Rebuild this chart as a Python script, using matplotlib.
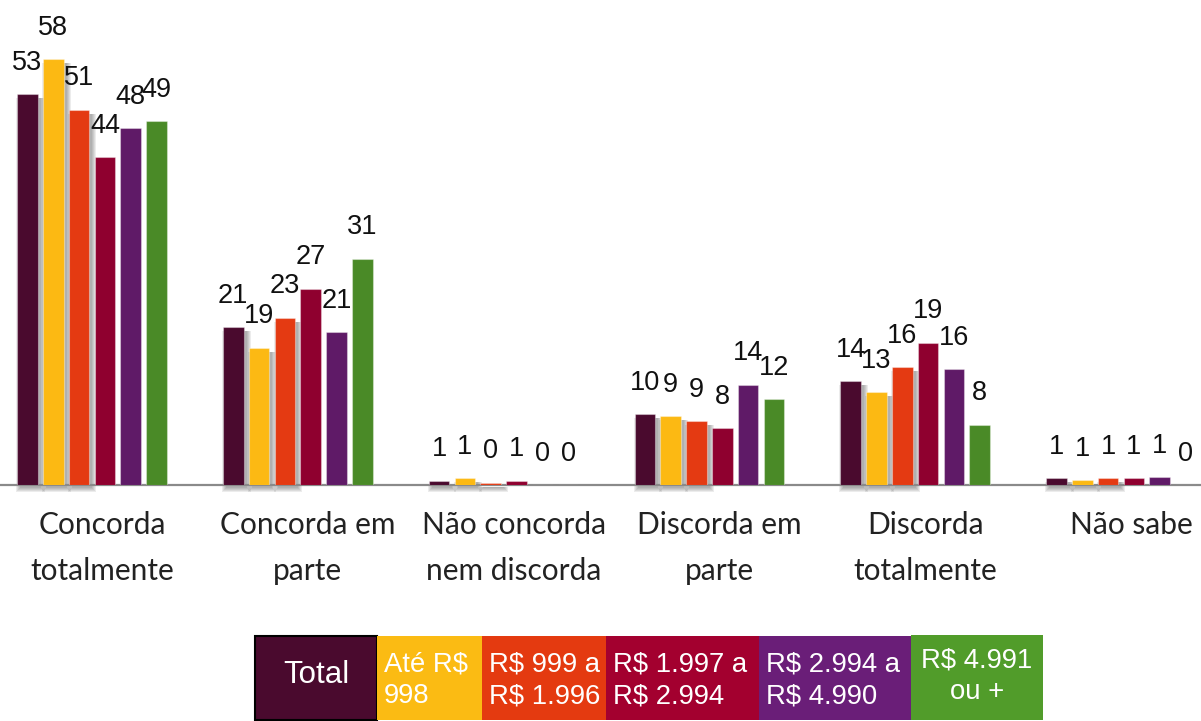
import matplotlib
matplotlib.use("Agg")
import matplotlib.pyplot as plt
from matplotlib.patches import Rectangle
from matplotlib.transforms import ScaledTranslation, blended_transform_factory

categories = ["Concorda\ntotalmente", "Concorda em\nparte", "Não concorda\nnem discorda",
              "Discorda em\nparte", "Discorda\ntotalmente", "Não sabe"]
series = ["Total", "Até R$\n998", "R$ 999 a\nR$ 1.996", "R$ 1.997 a\nR$ 2.994",
          "R$ 2.994 a\nR$ 4.990", "R$ 4.991\nou +"]
total = [53.0, 21.4, 0.6, 9.6, 14.1, 0.9]
ate_998 = [57.7, 18.6, 0.9, 9.3, 12.6, 0.7]
r999_1996 = [50.9, 22.7, 0.3, 8.7, 16.0, 0.9]
r1997_2994 = [44.4, 26.6, 0.6, 7.7, 19.3, 0.9]
r2994_4990 = [48.4, 20.7, 0.0, 13.6, 15.7, 1.1]
r4991_mais = [49.3, 30.7, 0.0, 11.6, 8.2, 0.0]
values = [total, ate_998, r999_1996, r1997_2994, r2994_4990, r4991_mais]

BAR_C = ["#4a0a2e", "#fcb913", "#e43a12", "#8f002f", "#5f1a67", "#4a8a27"]
LEG_C = ["#4a0a2e", "#fbbb13", "#e43a10", "#a3002f", "#6a1e78", "#519c2a"]
NUM_FONT = "Liberation Sans"
CAT_FONT = "Lato"

W, H, DPI = 1201, 721, 100
fig = plt.figure(figsize=(W / DPI, H / DPI), dpi=DPI)
BASE = 485            # pixel row of the zero line
PX_PER_UNIT = 7.377
GROUP_PX = 205.8
ax = fig.add_axes([0, (H - BASE) / H, 1, BASE / H])
ax.set_xlim(-92 / GROUP_PX, (W - 92) / GROUP_PX)
ax.set_ylim(0, BASE / PX_PER_UNIT)
ax.axis("off")

pitch, bw = 25.8 / GROUP_PX, 20.5 / GROUP_PX
px_x, px_y = 1 / GROUP_PX, 1 / PX_PER_UNIT

for j, (vals, col) in enumerate(zip(values, BAR_C)):
    xs = [i + (j - 2.5) * pitch for i in range(len(categories))]
    # soft drop shadow on the first three series
    if j < 3:
        for x, v in zip(xs, vals):
            for k in range(5):
                ax.add_patch(Rectangle((x - bw / 2 + (3 - k) * px_x, -(3 + k) * px_y),
                                       bw + 2 * k * px_x, v + (k - 1) * px_y,
                                       fc="#303030", ec="none", alpha=0.09,
                                       zorder=1, clip_on=False))
    ax.bar(xs, vals, width=bw, color=col, edgecolor=(1, 1, 1, 0.35), lw=0.8, zorder=3)
    for x, v in zip(xs, vals):
        ax.annotate(f"{v:.0f}", (x, v), xytext=(0, 17.5), textcoords="offset points",
                    ha="center", va="baseline", fontsize=19.5, family=NUM_FONT,
                    color="#111111", zorder=4)

ax.axhline(0, color="#8a8a8a", lw=1.6, zorder=2, clip_on=False)

tr = blended_transform_factory(ax.transData, ax.transAxes) + \
    ScaledTranslation(10 / DPI, -26 / DPI, fig.dpi_scale_trans)
for i, c in enumerate(categories):
    ax.text(i, 0, c, transform=tr, ha="center", va="top", fontsize=21.5,
            family=CAT_FONT, color="#222222", linespacing=1.8)

# legend strip drawn in pixel space
lg = fig.add_axes([0, 0, 1, 1], zorder=5)
lg.set_xlim(0, W); lg.set_ylim(H, 0); lg.axis("off")
edges = [255, 377, 482, 606, 759, 911, 1043]
for j, name in enumerate(series):
    x0, x1 = edges[j], edges[j + 1]
    top = 635 if j == 5 else 636
    lg.add_patch(Rectangle((x0, top), x1 - x0, 720 - top, fc=LEG_C[j],
                           ec="black" if j == 0 else "none", lw=1.5))
    if j == 0:
        lg.text((x0 + x1) / 2, 675, name, ha="center", va="center", fontsize=22.5,
                family=NUM_FONT, color="white")
    elif j == 5:
        lg.text((x0 + x1) / 2, 676, name, ha="center", va="center", fontsize=19.8,
                family=NUM_FONT, color="white", linespacing=1.3, multialignment="center")
    else:
        lg.text(x0 + 7, 680, name, ha="left", va="center", fontsize=19.8,
                family=NUM_FONT, color="white", linespacing=1.3)

fig.savefig("out.png", dpi=DPI, facecolor="white")
